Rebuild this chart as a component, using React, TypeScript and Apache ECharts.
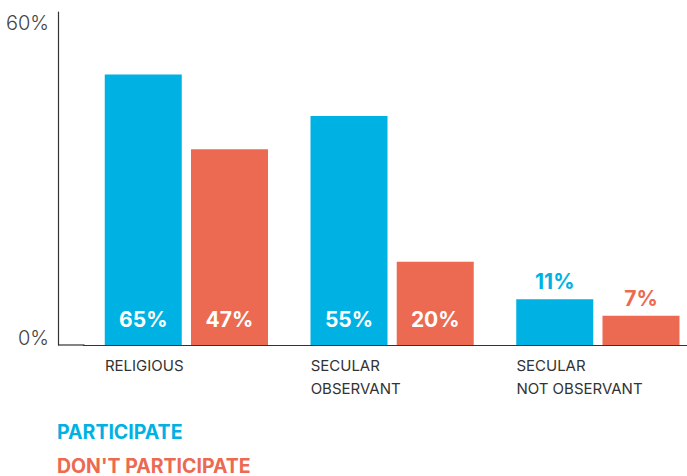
import React, { useEffect, useRef } from "react";
import * as echarts from "echarts";

const categories = ["RELIGIOUS", "SECULAR\nOBSERVANT", "SECULAR\nNOT OBSERVANT"];
const participate = [65, 55, 11];
const dontParticipate = [47, 20, 7];
const seriesNames = ["PARTICIPATE", "DON'T PARTICIPATE"];
const yTickValues = [0, 80];
const yTickLabels = ["0%", "60%"];

const BLUE = "#00B2E3";
const RED = "#EC6A51";
const FONT = "Inter, 'Noto Sans', sans-serif";

const GRID_LEFT = 83.5;
const GRID_WIDTH = 617.25;
const GRID_TOP = 12;
const GRID_HEIGHT = 333;
const Y_OFFSET = 25.5;
const INSIDE_MIN = 15;

function makeData(values: number[], color: string) {
  return values.map((v) => ({
    value: v,
    label:
      v >= INSIDE_MIN
        ? { position: "insideBottom", distance: 15, color: "#ffffff" }
        : { position: "top", distance: 7, color },
  }));
}

export default function App() {
  const ref = useRef<HTMLDivElement>(null);
  useEffect(() => {
    if (!ref.current) return;
    const chart = echarts.init(ref.current, undefined, { renderer: "svg" });
    const labelBase = {
      show: true,
      fontFamily: FONT,
      fontWeight: "bold",
      fontSize: 21,
      formatter: (p: any) => `${p.value}%`,
    };
    const yLab = { fontFamily: FONT, fontWeight: 300, fontSize: 20, color: "#444444" };
    const baseY = GRID_TOP + GRID_HEIGHT;
    chart.setOption({
      animation: false,
      backgroundColor: "#ffffff",
      grid: {
        left: GRID_LEFT,
        width: GRID_WIDTH,
        top: GRID_TOP,
        height: GRID_HEIGHT,
        containLabel: false,
        outerBoundsMode: "none",
      },
      xAxis: {
        type: "category",
        data: categories,
        axisLine: { show: true, lineStyle: { color: "#333333", width: 1.2 } },
        axisTick: { show: false },
        axisLabel: {
          interval: 0,
          align: "left",
          verticalAlign: "top",
          padding: [0, 0, 0, -81.5],
          margin: 9,
          lineHeight: 23,
          fontFamily: FONT,
          fontSize: 15,
          color: "#333333",
        },
      },
      yAxis: {
        type: "value",
        min: 0,
        max: 80,
        interval: 80,
        offset: Y_OFFSET,
        axisLine: { show: true, lineStyle: { color: "#333333", width: 1.2 } },
        axisTick: { show: false },
        splitLine: { show: false },
        axisLabel: {
          margin: 9,
          ...yLab,
          verticalAlignMinLabel: "bottom",
          verticalAlignMaxLabel: "top",
          rich: {
            lo: { ...yLab, lineHeight: 14 },
            hi: { ...yLab, lineHeight: 22 },
          },
          formatter: (v: number) => {
            const i = yTickValues.indexOf(v);
            if (i < 0) return "";
            return i === 0 ? `{lo|${yTickLabels[i]}}` : `{hi|${yTickLabels[i]}}`;
          },
        },
      },
      legend: {
        orient: "vertical",
        left: 52,
        top: 421,
        padding: 0,
        icon: "none",
        itemWidth: 0,
        itemHeight: 14,
        itemGap: 13,
        selectedMode: false,
        textStyle: { fontFamily: FONT, fontWeight: "bold", fontSize: 19.5, lineHeight: 21 },
        data: [
          { name: seriesNames[0], textStyle: { color: BLUE } },
          { name: seriesNames[1], textStyle: { color: RED } },
        ],
      },
      graphic: [
        {
          type: "line",
          shape: { x1: GRID_LEFT - Y_OFFSET, y1: baseY, x2: GRID_LEFT + 1, y2: baseY },
          style: { stroke: "#333333", lineWidth: 1.2 },
        },
      ],
      series: [
        {
          name: seriesNames[0],
          type: "bar",
          barWidth: 77,
          barGap: "12%",
          itemStyle: { color: BLUE },
          label: labelBase,
          data: makeData(participate, BLUE),
        },
        {
          name: seriesNames[1],
          type: "bar",
          barWidth: 77,
          barGap: "12%",
          itemStyle: { color: RED },
          label: labelBase,
          data: makeData(dontParticipate, RED),
        },
      ],
    });
    return () => chart.dispose();
  }, []);
  return (
    <div
      ref={ref}
      style={{ position: "fixed", left: 0, top: 0, width: 687, height: 476, background: "#fff" }}
    />
  );
}
